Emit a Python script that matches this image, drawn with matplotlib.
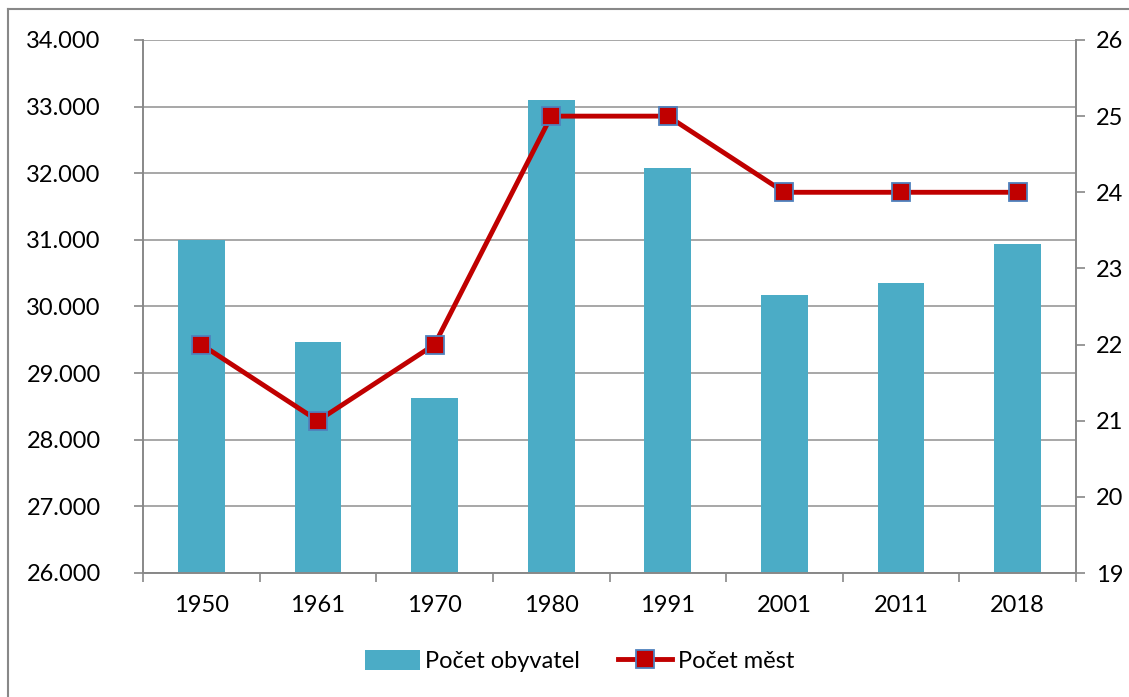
import matplotlib
matplotlib.use("Agg")
import matplotlib.pyplot as plt
from matplotlib.lines import Line2D
import numpy as np

years = ["1950", "1961", "1970", "1980", "1991", "2001", "2011", "2018"]
population = [31000, 29460, 28620, 33100, 32080, 30180, 30360, 30940]
towns = [22, 21, 22, 25, 25, 24, 24, 24]
left_ticks = [26000, 27000, 28000, 29000, 30000, 31000, 32000, 33000, 34000]
left_labels = ["26.000", "27.000", "28.000", "29.000", "30.000", "31.000", "32.000", "33.000", "34.000"]
right_ticks = [19, 20, 21, 22, 23, 24, 25, 26]

plt.rcParams['font.family'] = ['Lato', 'DejaVu Sans']

W, H = 1129, 697
fig = plt.figure(figsize=(W/100, H/100), dpi=100)
ax = fig.add_axes([143/W, 1-573/H, (1076-143)/W, (573-40)/H])
ax2 = ax.twinx()

x = np.arange(len(years))
bar_color = "#4BACC6"
ax.bar(x, population, width=0.4, color=bar_color, zorder=2, label="Počet obyvatel")
ax.set_ylim(26000, 34000)
ax.set_xlim(-0.5, len(years)-0.5)
ax.set_yticks(left_ticks)
ax.set_yticklabels(left_labels)
ax.yaxis.grid(True, color="#A0A0A0", linewidth=1.3, zorder=0)
ax.set_axisbelow(True)
ax.set_xticks(x)
ax.set_xticklabels(years)
ax.set_xticks(np.arange(len(years)+1)-0.5, minor=True)
ax.tick_params(axis='x', which='major', length=0, pad=16, labelsize=17)
ax.tick_params(axis='x', which='minor', length=6.5, color="#888888", width=1.2)
ax.tick_params(axis='y', length=6.5, color="#888888", width=1.2, labelsize=17, pad=24)

for a in (ax, ax2):
    for s in ["top"]:
        a.spines[s].set_visible(False)
    for s in ["left", "right", "bottom"]:
        a.spines[s].set_color("#888888")
        a.spines[s].set_linewidth(1.2)

ax2.plot(x, towns, color="#C00000", linewidth=3.5, marker="s", markersize=13,
         markerfacecolor="#C00000", markeredgecolor="#4F81BD", markeredgewidth=1.3,
         zorder=3, label="Počet měst")
ax2.set_ylim(19, 26)
ax2.set_yticks(right_ticks)
ax2.tick_params(axis='y', length=6.5, color="#888888", width=1.2, labelsize=17, pad=8)

h1, l1 = ax.get_legend_handles_labels()
h2, l2 = ax2.get_legend_handles_labels()
fig.legend(h1 + h2, l1 + l2, loc="center", bbox_to_anchor=(580/W, 1-661/H), ncol=2,
           frameon=False, fontsize=17, handlelength=2.3, handleheight=0.9,
           columnspacing=1.6, handletextpad=0.25)

# outer chart frame
fig.add_artist(Line2D([8/W, 8/W], [0, 1-9/H], color="#888888", linewidth=1.5))
fig.add_artist(Line2D([8/W, 1], [1-9/H, 1-9/H], color="#888888", linewidth=1.5))

fig.savefig("out.png", dpi=100)
